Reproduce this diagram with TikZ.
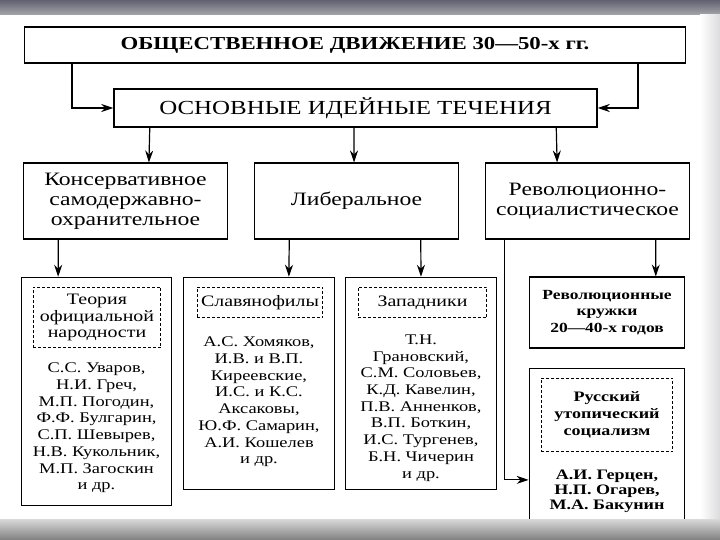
\documentclass[tikz,border=0pt]{standalone}
\usepackage{fontspec}
\setmainfont{Liberation Serif}[FakeStretch=1.25]
\usetikzlibrary{arrows.meta}

\begin{document}
\begin{tikzpicture}[x=1bp,y=-1bp,
    box/.style={draw,line width=1.3pt,inner sep=0pt,align=center},
    dbox/.style={draw,dash pattern=on 3pt off 2pt,line width=0.9pt,inner sep=0pt,align=center},
    arr/.style={line width=1.2pt,-{Stealth[length=12pt,width=8pt]}},
    midtxt/.style={font=\fontsize{19}{20}\selectfont},
    headtxt/.style={font=\fontsize{16}{16.5}\selectfont},
    nametxt/.style={align=center,inner sep=0pt,font=\fontsize{14.8}{16.8}\selectfont}]
    \useasboundingbox (0,0) rectangle (720,540);
    \fill[white] (0,0) rectangle (720,540);
    \shade[top color=blue!10!black!62,bottom color=blue!5!black!35] (0,0) rectangle (720,15);
    \shade[left color=white,right color=blue!8!black!14] (700,15) rectangle (720,519);
    \node[box,minimum width=664,minimum height=36,font=\fontsize{18.3}{20}\selectfont\bfseries] (obsh) at (355,45) {ОБЩЕСТВЕННОЕ ДВИЖЕНИЕ 30—50-х гг.};
    \node[box,minimum width=485,minimum height=38,font=\fontsize{20}{22}\selectfont] (tech) at (355.5,108) {ОСНОВНЫЕ ИДЕЙНЫЕ ТЕЧЕНИЯ};
    \node[box,midtxt,minimum width=205,minimum height=76] (kons) at (125.5,201) {Консервативное\\самодержавно-\\охранительное};
    \node[box,midtxt,minimum width=205,minimum height=76] (liber) at (356.5,201) {Либеральное};
    \node[box,midtxt,minimum width=205,minimum height=76] (revol) at (587.5,201) {Революционно-\\социалистическое};
    \draw[arr] ([xshift=-284]obsh.south) |- (tech.west);
    \draw[arr] ([xshift=284]obsh.south) |- (tech.east);
    \draw[arr] ([xshift=-206.5]tech.south) -- ([xshift=23.5]kons.north);
    \draw[arr] ([xshift=-1.5]tech.south) -- ([xshift=-2.5]liber.north);
    \draw[arr] ([xshift=201.5]tech.south) -- ([xshift=-30.5]revol.north);
    \node[box,minimum width=151,minimum height=229] (teor) at (96.5,391.5) {};
    \node[dbox,headtxt,minimum width=128,minimum height=61] (teorh) at (97,317.5) {Теория\\официальной\\народности};
    \node[nametxt] (teorn) at (96.5,428) {С.С. Уваров,\\Н.И. Греч,\\М.П. Погодин,\\Ф.Ф. Булгарин,\\С.П. Шевырев,\\Н.В. Кукольник,\\М.П. Загоскин\\и др.};
    \node[box,minimum width=152,minimum height=213] (slav) at (259,383.5) {};
    \node[dbox,headtxt,minimum width=126,minimum height=31] (slavh) at (260,302.5) {Славянофилы};
    \node[nametxt] (slavn) at (259,402) {А.С. Хомяков,\\И.В. и В.П.\\Киреевские,\\И.С. и К.С.\\Аксаковы,\\Ю.Ф. Самарин,\\А.И. Кошелев\\и др.};
    \node[box,minimum width=152,minimum height=213] (zap) at (421,383.5) {};
    \node[dbox,headtxt,minimum width=129,minimum height=31] (zaph) at (422.5,302.5) {Западники};
    \node[nametxt] (zapn) at (421,408) {Т.Н.\\Грановский,\\С.М. Соловьев,\\К.Д. Кавелин,\\П.В. Анненков,\\В.П. Боткин,\\И.С. Тургенев,\\Б.Н. Чичерин\\и др.};
    \node[box,minimum width=156,minimum height=71,font=\fontsize{14}{16.5}\selectfont\bfseries] (kruzh) at (607,312.5) {Революционные\\кружки\\20—40-х годов};
    \node[box,minimum width=156,minimum height=162] (utop) at (607,449) {};
    \node[dbox,minimum width=132,minimum height=74,font=\fontsize{14.5}{17}\selectfont\bfseries] (utoph) at (607,415) {Русский\\утопический\\социализм};
    \node[nametxt,font=\fontsize{14.5}{15}\selectfont\bfseries] (utopn) at (607,491.5) {А.И. Герцен,\\Н.П. Огарев,\\М.А. Бакунин};
    \draw[arr] ([xshift=-67.5]kons.south) -- ([xshift=-38.5]teor.north);
    \draw[arr] ([xshift=-67.5]liber.south) -- ([xshift=30]slav.north);
    \draw[arr] ([xshift=64.5]liber.south) -- (zap.north);
    \draw[arr] ([xshift=68.5]revol.south) -- ([xshift=49]kruzh.north);
    \draw[arr] ([xshift=-83.5]revol.south) |- ([yshift=-31]utop.west);
    \shade[top color=black!15,bottom color=black!50] (0,519) rectangle (720,540);
\end{tikzpicture}
\end{document}
